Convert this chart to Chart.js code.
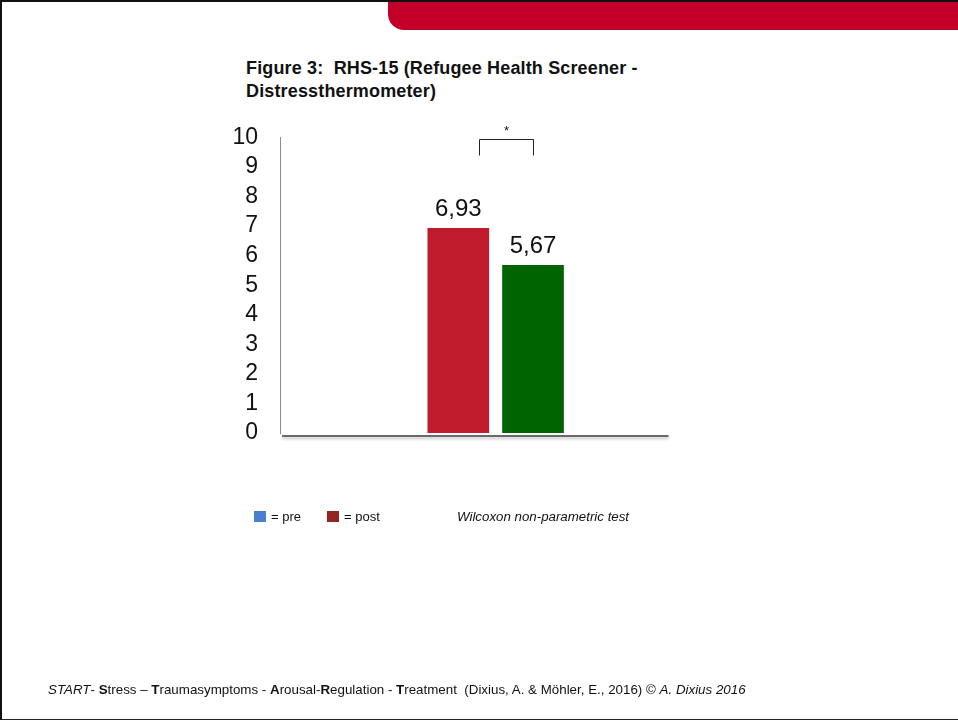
<!DOCTYPE html>
<html>
<head>
<meta charset="utf-8">
<script src="https://cdn.jsdelivr.net/npm/chart.js@4.4.1/dist/chart.umd.min.js"></script>
<style>
  html, body { margin: 0; padding: 0; background: #fff; }
  body { width: 958px; height: 720px; position: relative; overflow: hidden; font-family: "Liberation Sans", Arial, sans-serif; }
  #frame { position: absolute; left: 0; top: 0; width: 958px; height: 717px; border-left: 2px solid #111; border-top: 2px solid #111; border-bottom: 2px solid #222; box-sizing: content-box; }
  #banner { position: absolute; left: 388px; top: 0; width: 570px; height: 30px; background: #c2002a; border-bottom-left-radius: 16px; }
  #topline { position: absolute; left: 0; top: 0; width: 958px; height: 2px; background: #111; }
  #title { position: absolute; left: 246px; top: 57px; font-weight: bold; font-size: 18px; letter-spacing: 0.15px; line-height: 23px; color: #111; }
  canvas { position: absolute; left: 0; top: 0; }
  .legend { position: absolute; top: 509px; font-size: 13px; color: #111; line-height: 16px; }
  .sw { display: inline-block; width: 12px; height: 11px; vertical-align: -1px; margin-right: 5px; }
  #note { position: absolute; left: 457px; top: 509px; font-size: 13.3px; font-style: italic; color: #111; line-height: 16px; }
  #footer { position: absolute; left: 48px; top: 682px; font-size: 13.35px; color: #111; white-space: nowrap; }
</style>
</head>
<body>
<div id="frame"></div>
<div id="banner"></div>
<div id="topline"></div>
<div id="title">Figure 3:&nbsp; RHS-15 (Refugee Health Screener -<br>Distressthermometer)</div>
<canvas id="c" width="958" height="720"></canvas>
<div class="legend" style="left:254px"><span class="sw" style="background:#4a7fd0"></span>= pre</div>
<div class="legend" style="left:327px"><span class="sw" style="background:#922422"></span>= post</div>
<div id="note">Wilcoxon non-parametric test</div>
<div id="footer"><i>START</i>- <b>S</b>tress – <b>T</b>raumasymptoms - <b>A</b>rousal-<b>R</b>egulation - <b>T</b>reatment&nbsp; (Dixius, A. &amp; Möhler, E., 2016) © <i>A. Dixius 2016</i></div>
<script>
const categories = ['pre', 'post'];
const values = [6.93, 5.67];
const barColors = ['#bf1b2c', '#006400'];
const yTicks = [0, 1, 2, 3, 4, 5, 6, 7, 8, 9, 10];

const fmt = v => v.toFixed(2).replace('.', ',');

const decor = {
  id: 'decor',
  afterDatasetsDraw(chart) {
    const ctx = chart.ctx;
    const area = chart.chartArea;
    const bars = chart.getDatasetMeta(0).data;
    ctx.save();
    // value labels
    ctx.fillStyle = '#111';
    ctx.font = '24px "Liberation Sans", Arial, sans-serif';
    ctx.textAlign = 'center';
    ctx.textBaseline = 'alphabetic';
    bars.forEach((b, i) => {
      ctx.fillText(fmt(values[i]), b.x, b.y - 12);
    });
    // baseline with soft shadow
    ctx.save();
    ctx.shadowColor = 'rgba(0,0,0,0.25)';
    ctx.shadowBlur = 3;
    ctx.shadowOffsetY = 2;
    ctx.strokeStyle = '#6a6a6a';
    ctx.lineWidth = 2;
    ctx.beginPath();
    ctx.moveTo(area.left + 2, area.bottom + 3);
    ctx.lineTo(area.right + 0.5, area.bottom + 3);
    ctx.stroke();
    ctx.restore();
    // significance bracket
    const b0 = bars[0], b1 = bars[1];
    const lx = Math.round(b0.x + b0.width / 3) + 0.5;
    const rx = Math.round(b1.x) + 0.5;
    const ty = Math.round(area.top + 1.5) + 0.5;
    ctx.strokeStyle = '#222';
    ctx.lineWidth = 1;
    ctx.beginPath();
    ctx.moveTo(lx, ty + 16);
    ctx.lineTo(lx, ty);
    ctx.lineTo(rx, ty);
    ctx.lineTo(rx, ty + 16);
    ctx.stroke();
    ctx.font = '13px "Liberation Sans", Arial, sans-serif';
    ctx.fillStyle = '#111';
    ctx.fillText('*', (lx + rx) / 2, ty - 5);
    ctx.restore();
  }
};

new Chart(document.getElementById('c'), {
  type: 'bar',
  data: {
    datasets: [{
      label: 'RHS-15',
      data: categories.map((c, i) => ({ x: i, y: values[i] })),
      backgroundColor: barColors,
      borderWidth: 0,
      barThickness: 61
    }]
  },
  options: {
    responsive: false,
    animation: false,
    layout: { padding: { left: 230, right: 290, top: 137.5, bottom: 287 } },
    plugins: { legend: { display: false }, tooltip: { enabled: false } },
    scales: {
      x: {
        type: 'linear',
        offset: false,
        min: -2.387,
        max: 2.807,
        display: false,
        grid: { display: false, offset: false }
      },
      y: {
        min: 0,
        max: 10,
        afterFit(s) { s.width = 50; },
        afterBuildTicks(s) { s.ticks = yTicks.map(v => ({ value: v })); },
        grid: { display: false, drawTicks: false },
        border: { display: true, color: '#8c8c8c', width: 1 },
        ticks: {
          autoSkip: false,
          padding: 22,
          color: '#111',
          font: { family: '"Liberation Sans", Arial, sans-serif', size: 23 }
        }
      }
    }
  },
  plugins: [decor]
});
</script>
</body>
</html>
